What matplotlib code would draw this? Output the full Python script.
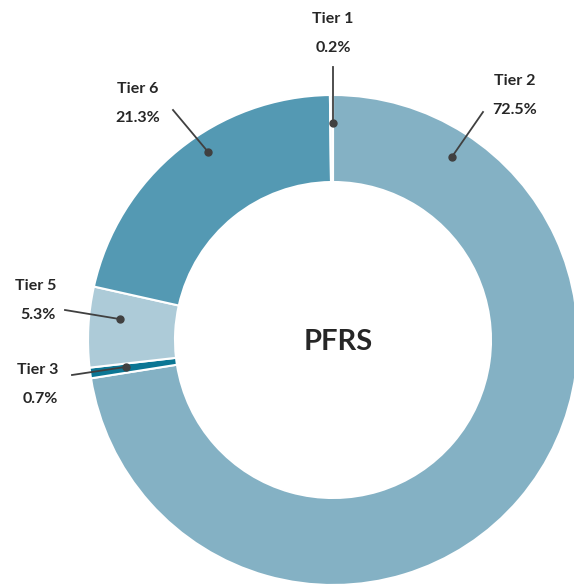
import matplotlib.pyplot as plt
import numpy as np

# wedge order clockwise from the top
tiers = ["Tier 2", "Tier 3", "Tier 5", "Tier 6", "Tier 1"]
shares = [72.5, 0.7, 5.3, 21.3, 0.2]
colors = ["#84b1c4", "#0b7694", "#adcbd8", "#5499b3", "#f4f8fa"]

W, H = 574, 584
cx, cy = 333, 340      # pixel centre of the ring (y measured from top)
R, ring = 245, 87

fig = plt.figure(figsize=(W / 100, H / 100), dpi=100)
ax = fig.add_axes([0, 0, 1, 1])

ax.pie(shares, colors=colors, startangle=90, counterclock=False,
       center=(cx, H - cy), radius=R, frame=True,
       wedgeprops=dict(width=ring, edgecolor="white", linewidth=1.5))
ax.set_xlim(0, W)
ax.set_ylim(0, H)
ax.set_aspect("equal")
ax.axis("off")

# label layout: dot (angle clockwise from top, radius), line start, text centre
layout = {
    "Tier 1": ((0.0, 217), (333, 67), (333, 18)),
    "Tier 2": ((33.0, 218), (483, 112), (515, 80)),
    "Tier 6": ((326.4, 226), (173, 110), (138, 88)),
    "Tier 5": ((275.6, 214), (65, 310), (36, 285)),
    "Tier 3": ((262.6, 209), (72, 375), (38, 369)),
}

font = ["Lato", "DejaVu Sans"]
txt = "#262626"
for name, val in zip(tiers, shares):
    (ang, rad), (lx, ly), (tx, ty) = layout[name]
    dx = cx + rad * np.sin(np.radians(ang))
    dy = cy - rad * np.cos(np.radians(ang))
    ax.plot([lx, dx], [H - ly, H - dy], color="#404040", lw=1.3, zorder=5)
    ax.plot(dx, H - dy, "o", color="#404040", ms=5, zorder=6)
    ax.text(tx, H - ty - 1, name, ha="center", va="center", fontsize=11.5,
            fontweight="bold", color=txt, family=font)
    ax.text(tx + (2 if name in ("Tier 5", "Tier 3") else 0), H - ty - 30,
            f"{val}%", ha="center", va="center", fontsize=11.5,
            fontweight="bold", color=txt, family=font)

ax.text(cx + 5, H - 342, "PFRS", ha="center", va="center", fontsize=21,
        fontweight="bold", color=txt, family=font)

fig.savefig("out.png", dpi=100)
